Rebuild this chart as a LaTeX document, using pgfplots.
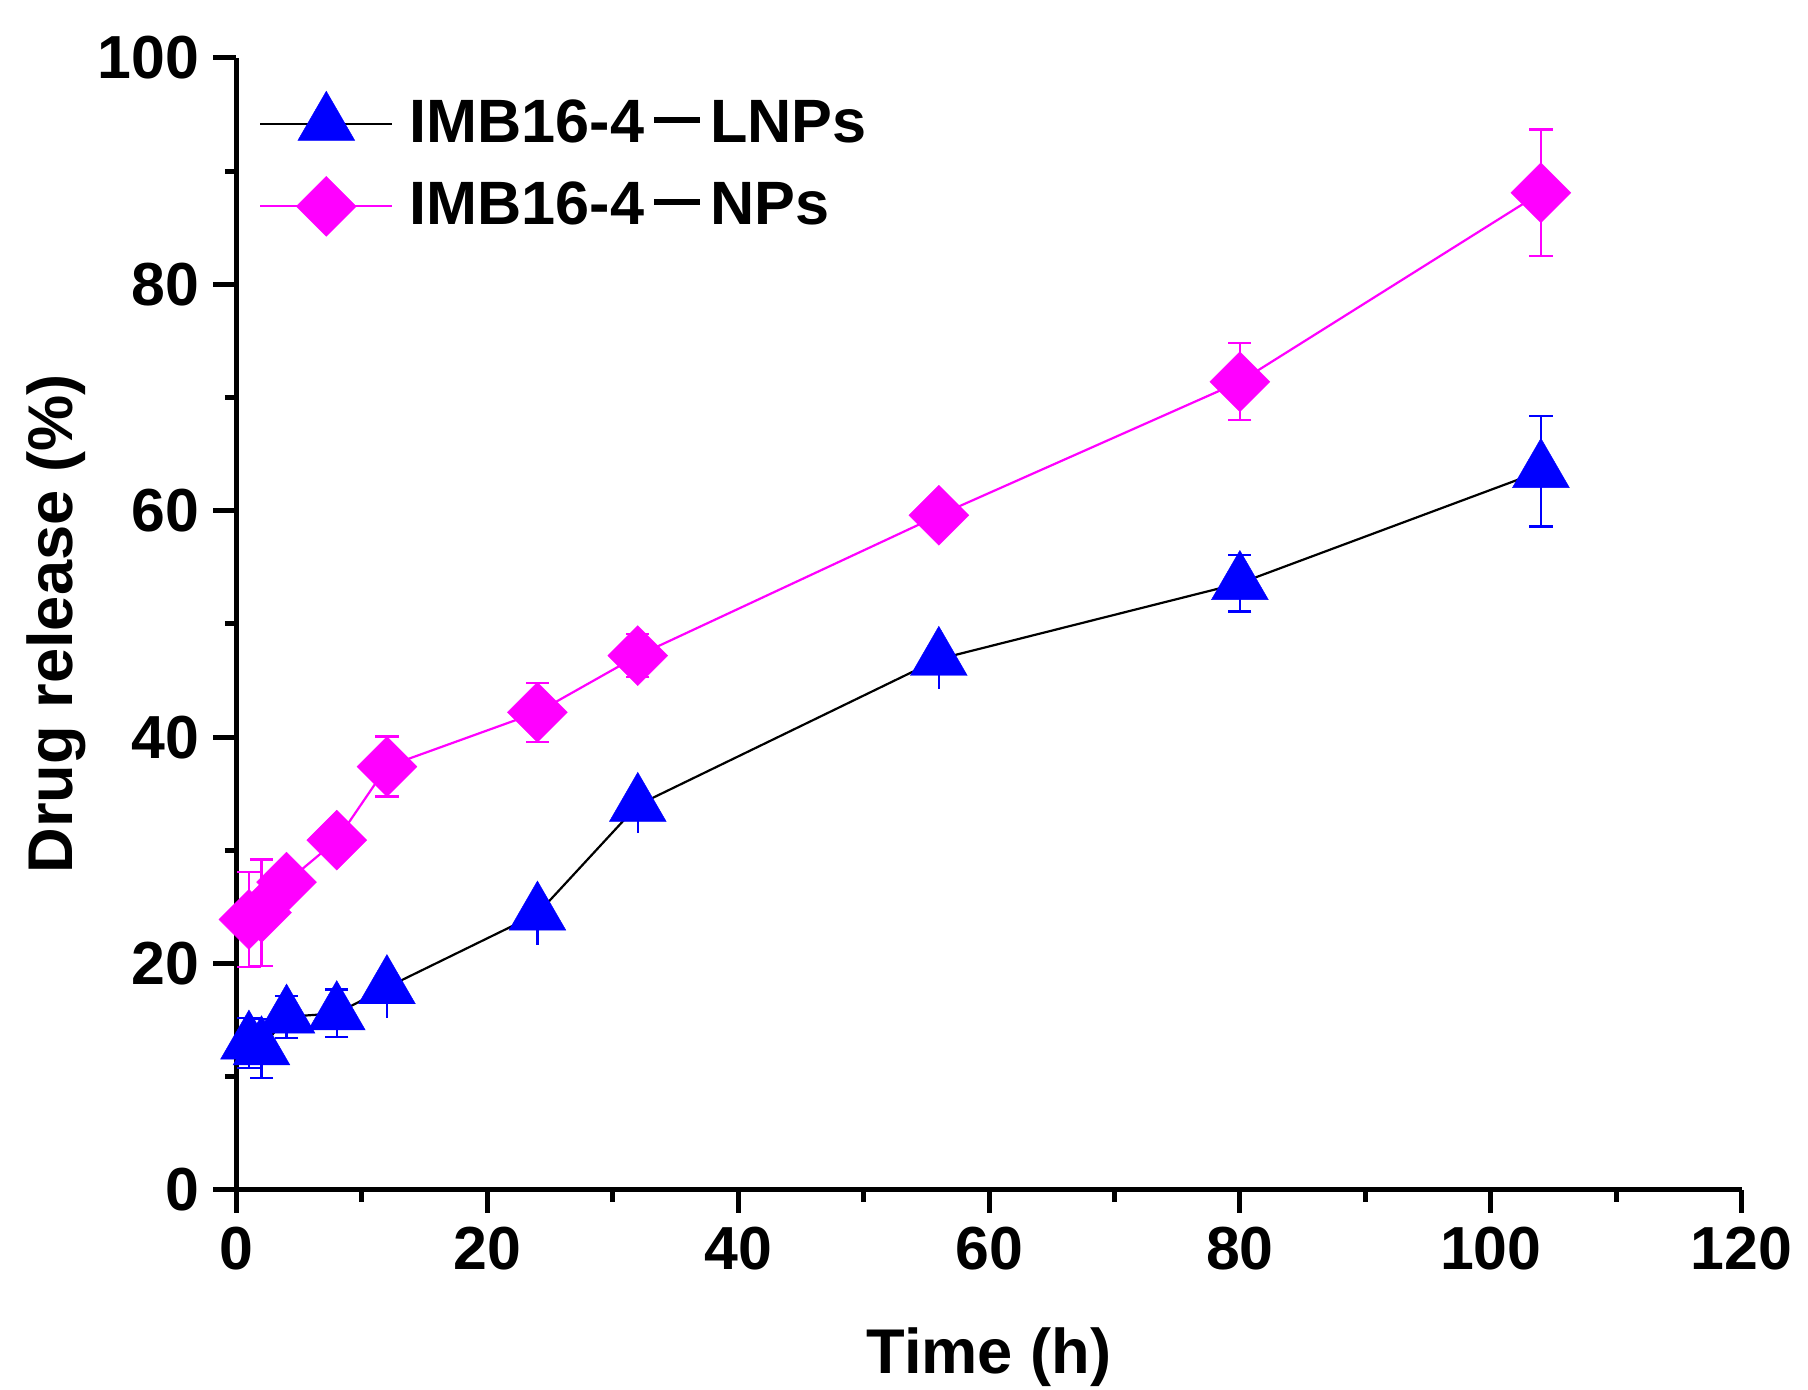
\documentclass[border=0pt]{standalone}
\usepackage{fontspec}
\setmainfont{Liberation Sans}
\usepackage{pgfplots}
\usepackage{pgfplotstable}
\pgfplotsset{compat=1.18}
\definecolor{mblue}{RGB}{0,0,255}
\definecolor{mpink}{RGB}{255,0,255}
\newcommand{\ldash}{\hspace{2.6pt}\rule[4.8pt]{11.3pt}{1.5pt}\hspace{2.6pt}}

% IMB16-4-LNPs: time, mean, error; c=1 marks the points whose error bar
% is drawn with caps in both directions
\pgfplotstableread{
x y e c
1 13.0 2.2 1
2 12.5 2.6 1
4 15.3 1.85 1
8 15.6 2.1 1
12 17.9 2.7 0
24 24.4 2.8 0
32 34.0 2.5 0
56 46.9 2.6 0
80 53.6 2.5 1
104 63.5 4.9 1
}\lnps

\pgfplotstableread{
x y e
1 23.9 4.2
2 24.5 4.7
4 27.2 1.5
8 30.9 1.0
12 37.4 2.65
24 42.2 2.6
32 47.2 1.9
56 59.6 1.5
80 71.4 3.4
104 88.1 5.6
}\nps

\begin{document}
\begin{tikzpicture}
\begin{axis}[
  at={(0,0)}, anchor=south west,
  scale only axis, width=376.3pt, height=283pt,
  xmin=0, xmax=120, ymin=0, ymax=100,
  axis x line*=bottom, axis y line*=left,
  xtick={0,20,...,120}, ytick={0,20,...,100},
  minor x tick num=1, minor y tick num=1,
  tick align=outside,
  major tick length=5.75pt, minor tick length=2.9pt,
  every tick/.style={black, line width=1.25pt},
  axis line style={line width=1.25pt},
  /pgf/number format/assume math mode=true,
  tick label style={font=\fontsize{15.2}{16}\selectfont\bfseries},
  label style={font=\fontsize{15.8}{18}\selectfont\bfseries},
  xlabel={Time (h)}, ylabel={Drug release (\%)},
  xlabel style={at={(axis description cs:0.5,-0.1625)}, anchor=base},
  ylabel style={at={(axis description cs:-0.1092,0.5)}, anchor=base},
  legend style={draw=none, fill=none, at={(axis description cs:0,1)}, anchor=north west,
    xshift=5.5pt, yshift=-8.1pt, inner sep=0pt,
    font=\fontsize{15.3}{18}\selectfont\bfseries, row sep=4.4pt},
  legend cell align=left,
  legend image code/.code={\draw[mark repeat=2,mark phase=2,#1] plot coordinates {(0pt,0pt) (16.5pt,0pt) (33pt,0pt)};\path (35pt,0pt);},
]
% error bars first, so that the markers are drawn over them
\addplot[forget plot, only marks, mark=none,
  restrict expr to domain={\thisrow{c}}{1:1},
  error bars/.cd, y dir=both, y explicit,
  error bar style={mblue, line width=0.6pt},
  error mark options={rotate=90, mblue, line width=0.6pt, mark size=2.9pt}]
  table[x=x, y=y, y error=e] {\lnps};
\addplot[forget plot, only marks, mark=none,
  restrict expr to domain={\thisrow{c}}{0:0},
  error bars/.cd, y dir=minus, y explicit, error mark=none,
  error bar style={mblue, line width=0.6pt}]
  table[x=x, y=y, y error=e] {\lnps};
\addplot[forget plot, only marks, mark=none,
  error bars/.cd, y dir=both, y explicit,
  error bar style={mpink, line width=0.6pt},
  error mark options={rotate=90, mpink, line width=0.6pt, mark size=2.9pt}]
  table[x=x, y=y, y error=e] {\nps};
\addplot[black, line width=0.55pt, mark=triangle*, mark size=8.2pt,
  mark options={draw=mblue, fill=mblue, line width=0.1pt}]
  table[x=x, y=y] {\lnps};
\addlegendentry{IMB16-4\ldash LNPs}
\addplot[mpink, line width=0.55pt, mark=square*, mark size=5.3pt,
  mark options={rotate=45, draw=mpink, fill=mpink, line width=0.1pt}]
  table[x=x, y=y] {\nps};
\addlegendentry{IMB16-4\ldash NPs}
\end{axis}
\pgfresetboundingbox
\path[use as bounding box] (-59.1pt,-50pt) rectangle (392.9pt,297.5pt);
\end{tikzpicture}
\end{document}
